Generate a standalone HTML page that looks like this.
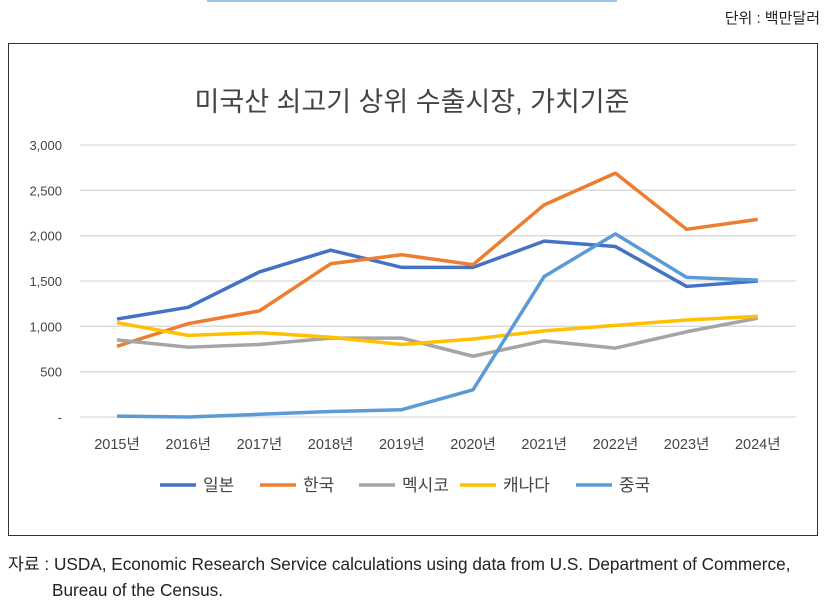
<!DOCTYPE html>
<html><head><meta charset="utf-8"><style>
body{margin:0;width:834px;height:601px;background:#fff;font-family:"Liberation Sans","Noto Sans CJK KR",sans-serif;position:relative;overflow:hidden}
.t{position:absolute;white-space:nowrap}
</style></head><body>
<div style="position:absolute;left:207px;top:0;width:410px;height:2px;background:#9dc3e6"></div>
<div class="t" style="right:14px;top:7px;font-size:15px;color:#222">단위 : 백만달러</div>
<div style="position:absolute;left:8px;top:43px;width:808px;height:491px;border:1px solid #333"></div>
<svg id="c" width="834" height="601" style="position:absolute;left:0;top:0">
<text x="412" y="111" text-anchor="middle" font-size="27" fill="#444" font-family="Liberation Sans, Noto Sans CJK KR, sans-serif">미국산 쇠고기 상위 수출시장, 가치기준</text>
</svg>
<div class="t" style="left:8px;top:551px;font-size:17.2px;color:#222;line-height:26px">자료 : USDA, Economic Research Service calculations using data from U.S. Department of Commerce,<br><span style="padding-left:44px">Bureau of the Census.</span></div>
<script>
const years=["2015년","2016년","2017년","2018년","2019년","2020년","2021년","2022년","2023년","2024년"];
const yTicks=[0,500,1000,1500,2000,2500,3000];
const yTickLabels=["-","500","1,000","1,500","2,000","2,500","3,000"];
const seriesNames=["일본","한국","멕시코","캐나다","중국"];
const japan=[1080,1210,1600,1840,1650,1650,1940,1880,1440,1500];
const korea=[780,1030,1170,1690,1790,1680,2340,2690,2070,2180];
const mexico=[850,770,800,870,870,670,840,760,940,1090];
const canada=[1040,900,930,880,800,860,950,1010,1070,1110];
const china=[10,0,30,60,80,300,1550,2020,1540,1510];
const colors=["#4472c4","#ed7d31","#a5a5a5","#ffc000","#5b9bd5"];
const data=[japan,korea,mexico,canada,china];
const svg=document.getElementById('c');const NS="http://www.w3.org/2000/svg";
const x=i=>117+i*71.2;const y=v=>417-v*272/3000;
function mk(t,a){const e=document.createElementNS(NS,t);for(const k in a)e.setAttribute(k,a[k]);svg.appendChild(e);return e;}
yTicks.forEach((v,i)=>{
 const g=mk('line',{x1:80,x2:796,y1:y(v),y2:y(v),stroke:'#d9d9d9','stroke-width':1.3});
 
 
 const t=mk('text',{x:62,y:y(v)+5,'text-anchor':'end','font-size':13,fill:'#444'});t.textContent=yTickLabels[i];
 
 
});
years.forEach((s,i)=>{const t=mk('text',{x:x(i),y:449,'text-anchor':'middle','font-size':14.5,fill:'#444'});t.textContent=s;
 
 
});
data.forEach((d,k)=>{const p=mk('polyline',{points:d.map((v,i)=>x(i)+','+y(v)).join(' '),fill:'none',stroke:colors[k],'stroke-width':3.5,'stroke-linejoin':'round'});
 
 
});
const lx=[160,260,359,460,576];
seriesNames.forEach((n,k)=>{
 const l=mk('line',{x1:lx[k],x2:lx[k]+36,y1:485,y2:485,stroke:colors[k],'stroke-width':3.5});
 
 
 const t=mk('text',{x:lx[k]+43,y:491,'font-size':17,fill:'#444'});t.textContent=n;
 
 
});
</script>
</body></html>
